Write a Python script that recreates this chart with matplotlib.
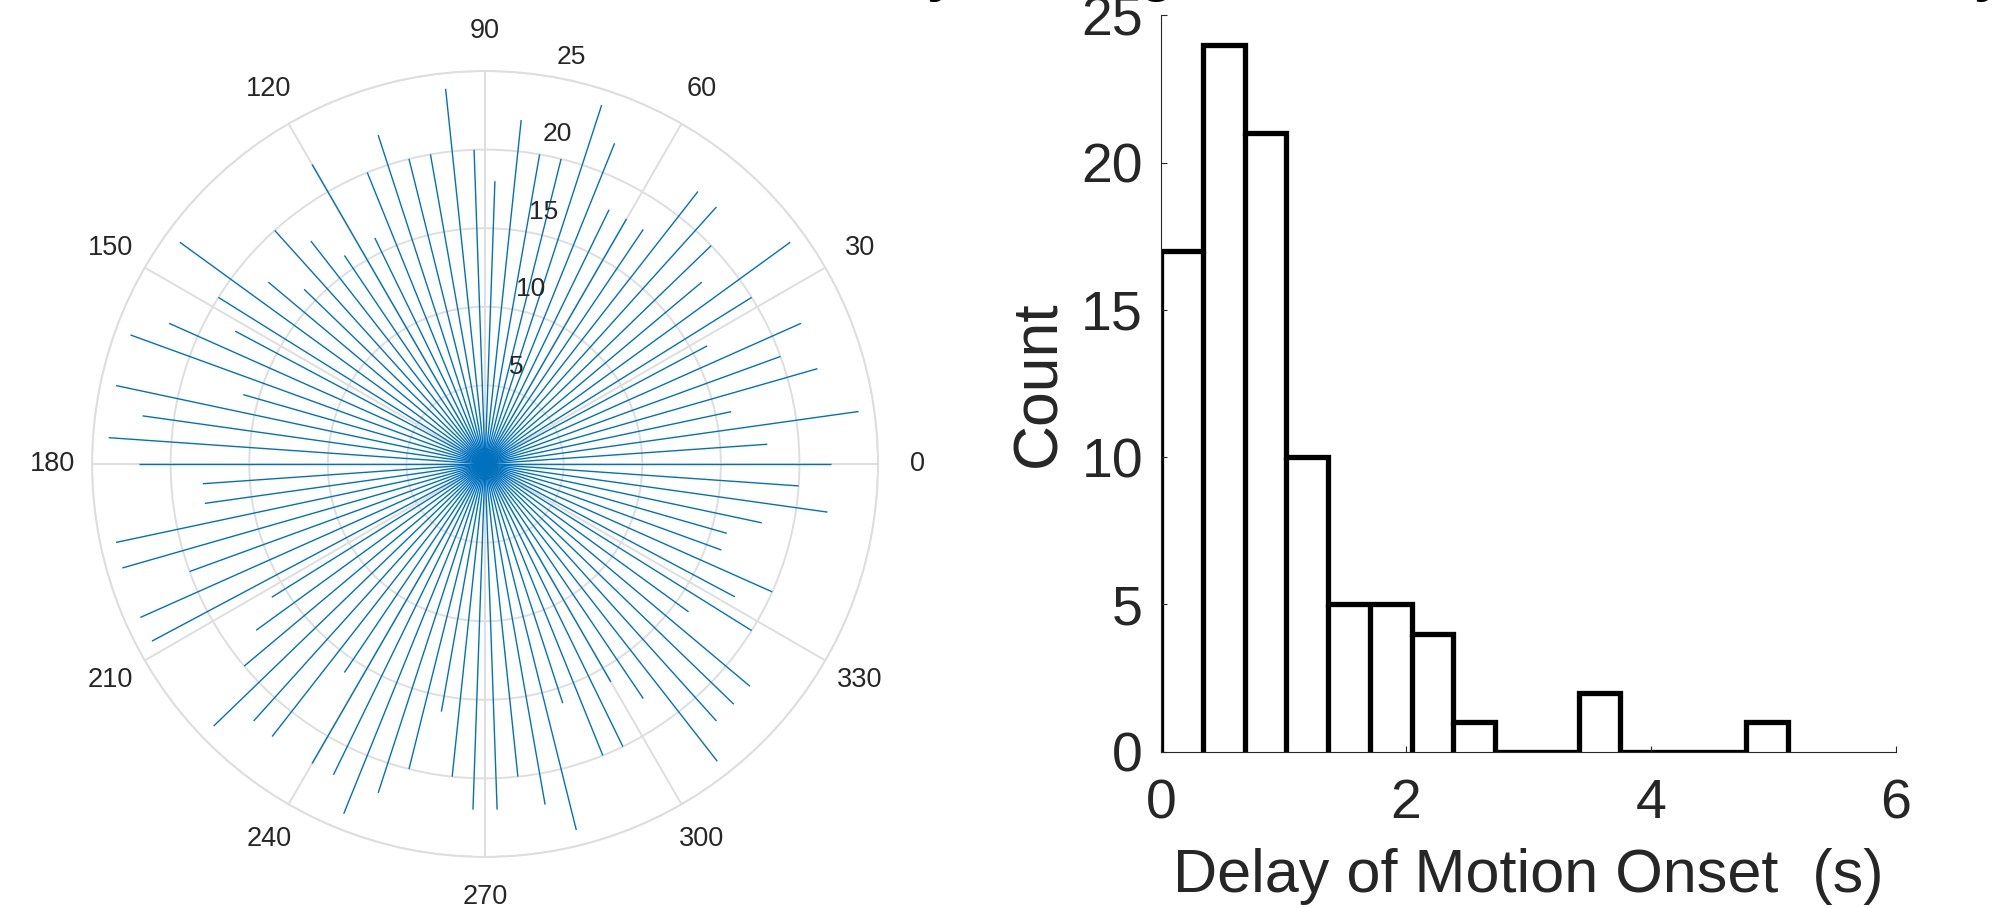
import numpy as np
import matplotlib
matplotlib.use("Agg")
import matplotlib.pyplot as plt

plt.rcParams['font.family'] = ['Liberation Sans', 'DejaVu Sans']

# compass-style lines: direction (deg) and length
angles_deg = list(range(0, 360, 4))
lengths = [
    22, 18, 24, 16, 22, 20, 22, 16, 20, 24,   # 0 - 36
    18, 20, 22, 22, 18, 18, 18, 22, 24, 20,   # 40 - 76
    20, 22, 18, 20, 24, 20, 20, 22, 20, 16,   # 80 - 116
    22, 16, 18, 20, 16, 18, 24, 20, 18, 22,   # 120 - 156
    24, 16, 24, 22, 24, 22, 18, 18, 24, 24,   # 160 - 196
    20, 24, 24, 16, 18, 20, 24, 22, 22, 16,   # 200 - 236
    22, 22, 24, 22, 20, 16, 20, 22, 22, 20,   # 240 - 276
    22, 24, 16, 20, 20, 16, 18, 24, 22, 22,   # 280 - 316
    22, 16, 20, 18, 20, 16, 16, 18, 22, 20,   # 320 - 356
]
r_ticks = [5, 10, 15, 20, 25]
theta_ticks = list(range(0, 360, 30))

# histogram of motion onset delay
bin_edges = [0.0, 0.341, 0.682, 1.023, 1.364, 1.705, 2.046, 2.387, 2.728,
             3.069, 3.41, 3.751, 4.092, 4.433, 4.774, 5.115]
counts = [17, 24, 21, 10, 5, 5, 4, 1, 0, 0, 2, 0, 0, 0, 1]

text_col = '#262626'
grid_col = '#dedede'

fig = plt.figure(figsize=(20.01, 9.08), dpi=100)

# ---- polar panel ----
axp = fig.add_axes([0.046, 0.0562, 0.3928, 0.8656], projection='polar')
axp.vlines(np.deg2rad(angles_deg), 0, lengths, color='#0072BD', lw=1.0)
axp.set_ylim(0, 25)
axp.set_yticks(r_ticks)
axp.set_yticklabels([])
axp.set_xticks(np.deg2rad(theta_ticks))
axp.set_xticklabels([str(t) for t in theta_ticks])
axp.tick_params(axis='x', pad=18, labelsize=19.5, colors=text_col)
axp.grid(True, color=grid_col, lw=1.4)
axp.spines['polar'].set_color(grid_col)
axp.spines['polar'].set_linewidth(1.4)
for r in r_ticks:
    axp.annotate(str(r), xy=(np.deg2rad(80), r), xytext=(18, 20),
                 textcoords='offset pixels', ha='center', va='center',
                 fontsize=19, color=text_col)

# ---- histogram panel ----
axh = fig.add_axes([0.5802, 0.1721, 0.3673, 0.811])
edges = np.array(bin_edges)
cnt = np.array(counts)
axh.stairs(cnt, edges, baseline=0, color='black', lw=3.8)
axh.vlines(edges[1:-1], 0, np.minimum(cnt[:-1], cnt[1:]), color='black', lw=3.8)
axh.set_xlim(0, 6)
axh.set_ylim(0, 25)
axh.set_xticks([0, 2, 4, 6])
axh.set_yticks([0, 5, 10, 15, 20, 25])
for s in ['top', 'right']:
    axh.spines[s].set_visible(False)
for s in ['left', 'bottom']:
    axh.spines[s].set_color(text_col)
    axh.spines[s].set_linewidth(0.8)
axh.tick_params(direction='in', length=4.5, width=0.8, colors=text_col, labelsize=40)
axh.tick_params(axis='y', pad=13)
axh.tick_params(axis='x', pad=19)
axh.set_xlabel('Delay of Motion Onset  (s)', fontsize=44, color=text_col, labelpad=13)
axh.set_ylabel('Count', fontsize=45, color=text_col, labelpad=9)

# bits of the panel titles that show at the cropped top edge
for x, ch in [(0.471, 'y'), (0.578, 'g'), (0.994, 'y')]:
    fig.text(x, 1.0105, ch, fontsize=40, fontweight='bold', color='black',
             ha='center', va='baseline')

fig.savefig('out.png', dpi=100)
